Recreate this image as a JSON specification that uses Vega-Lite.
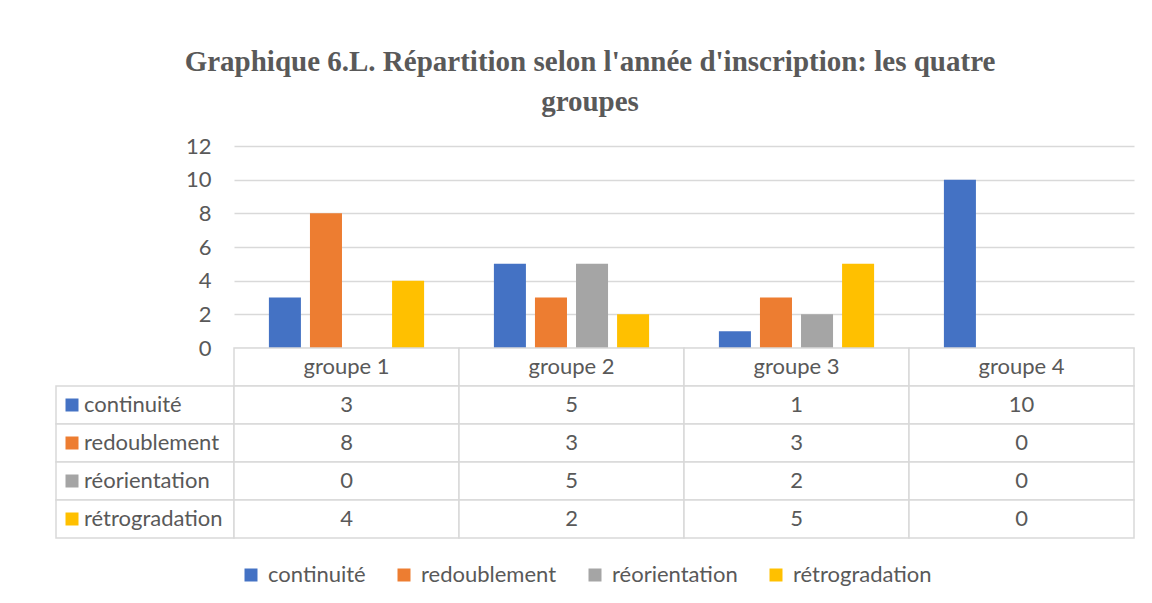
{
  "$schema": "https://vega.github.io/schema/vega-lite/v6.json",
  "padding": {"left": 55, "top": 48, "right": 10, "bottom": 10},
  "background": "white",
  "config": {"view": {"stroke": null}, "font": "Lato"},
  "datasets": {
    "main": [
      {"group": "groupe 1", "series": "continuité", "value": 3},
      {"group": "groupe 1", "series": "redoublement", "value": 8},
      {"group": "groupe 1", "series": "réorientation", "value": 0},
      {"group": "groupe 1", "series": "rétrogradation", "value": 4},
      {"group": "groupe 2", "series": "continuité", "value": 5},
      {"group": "groupe 2", "series": "redoublement", "value": 3},
      {"group": "groupe 2", "series": "réorientation", "value": 5},
      {"group": "groupe 2", "series": "rétrogradation", "value": 2},
      {"group": "groupe 3", "series": "continuité", "value": 1},
      {"group": "groupe 3", "series": "redoublement", "value": 3},
      {"group": "groupe 3", "series": "réorientation", "value": 2},
      {"group": "groupe 3", "series": "rétrogradation", "value": 5},
      {"group": "groupe 4", "series": "continuité", "value": 10},
      {"group": "groupe 4", "series": "redoublement", "value": 0},
      {"group": "groupe 4", "series": "réorientation", "value": 0},
      {"group": "groupe 4", "series": "rétrogradation", "value": 0}
    ]
  },
  "title": {
    "text": ["Graphique 6.L. Répartition selon l'année d'inscription: les quatre", "groupes"],
    "font": "Liberation Serif",
    "fontSize": 29,
    "fontWeight": "bold",
    "color": "#595959",
    "anchor": "middle",
    "dx": -5,
    "offset": 18,
    "lineHeight": 40
  },
  "columns": 2,
  "spacing": 0,
  "bounds": "flush",
  "align": "each",
  "concat": [
    {
      "width": 178,
      "height": 202,
      "data": {"name": "main"},
      "mark": {"type": "text", "opacity": 0},
      "encoding": {}
    },
    {
      "width": 900,
      "height": 202,
      "data": {"name": "main"},
      "mark": {"type": "bar"},
      "encoding": {
        "x": {"field": "group", "type": "nominal", "sort": null, "scale": {"paddingInner": 0, "paddingOuter": 0}, "axis": null},
        "xOffset": {"field": "series", "type": "nominal", "sort": ["continuité", "redoublement", "réorientation", "rétrogradation"], "scale": {"paddingInner": 0.22, "paddingOuter": 0.85}},
        "y": {
          "field": "value", "type": "quantitative",
          "scale": {"domain": [0, 12]},
          "axis": {"values": [0, 2, 4, 6, 8, 10, 12], "grid": true, "gridColor": "#d9d9d9", "gridWidth": 1.3, "domain": false, "ticks": false, "tickSize": 0, "labelPadding": 23, "labelFont": "Lato", "labelFontSize": 22, "labelColor": "#595959", "title": null}
        },
        "color": {
          "field": "series", "type": "nominal",
          "scale": {"domain": ["continuité", "redoublement", "réorientation", "rétrogradation"], "range": ["#4472C4", "#ED7D31", "#A5A5A5", "#FFC000"]},
          "legend": {"orient": "none", "legendX": 184, "legendY": 418, "direction": "horizontal", "title": null, "symbolType": "square", "symbolSize": 169, "symbolStrokeWidth": 0, "symbolOpacity": 1, "labelFont": "Lato", "labelFontSize": 22, "labelColor": "#595959", "columnPadding": 27, "labelOffset": 6, "padding": 0}
        }
      }
    },
    {
      "width": 178,
      "height": 190,
      "data": {"name": "main"},
      "transform": [{"aggregate": [{"op": "count", "as": "n"}], "groupby": ["series"]}],
      "encoding": {
        "y": {"field": "series", "type": "nominal", "scale": {"domain": ["_", "continuité", "redoublement", "réorientation", "rétrogradation"], "paddingInner": 0, "paddingOuter": 0}, "axis": null}
      },
      "layer": [
        {"mark": {"type": "rect", "fill": "white", "stroke": "#d9d9d9", "strokeWidth": 1.5}, "encoding": {"x": {"value": 0}, "x2": {"value": "width"}}},
        {"mark": {"type": "square", "size": 169, "filled": true, "opacity": 1}, "encoding": {"x": {"value": 16}, "color": {"field": "series", "type": "nominal", "scale": {"domain": ["continuité", "redoublement", "réorientation", "rétrogradation"], "range": ["#4472C4", "#ED7D31", "#A5A5A5", "#FFC000"]}}}},
        {"mark": {"type": "text", "align": "left", "font": "Lato", "fontSize": 22, "color": "#595959"}, "encoding": {"x": {"value": 28}, "text": {"field": "series"}}}
      ]
    },
    {
      "width": 900,
      "height": 190,
      "layer": [
        {
          "data": {"name": "main"},
          "transform": [{"aggregate": [{"op": "count", "as": "n"}], "groupby": ["group"]}],
          "encoding": {
            "x": {"field": "group", "type": "nominal", "sort": null, "scale": {"paddingInner": 0, "paddingOuter": 0}, "axis": null},
            "y": {"datum": "_", "type": "nominal", "scale": {"domain": ["_", "continuité", "redoublement", "réorientation", "rétrogradation"], "paddingInner": 0, "paddingOuter": 0}, "axis": null}
          },
          "layer": [
            {"mark": {"type": "rect", "fill": "white", "stroke": "#d9d9d9", "strokeWidth": 1.5}},
            {"mark": {"type": "text", "font": "Lato", "fontSize": 22, "color": "#595959"}, "encoding": {"text": {"field": "group"}}}
          ]
        },
        {
          "data": {"name": "main"},
          "encoding": {
            "x": {"field": "group", "type": "nominal", "sort": null, "scale": {"paddingInner": 0, "paddingOuter": 0}, "axis": null},
            "y": {"field": "series", "type": "nominal", "scale": {"domain": ["_", "continuité", "redoublement", "réorientation", "rétrogradation"], "paddingInner": 0, "paddingOuter": 0}, "axis": null}
          },
          "layer": [
            {"mark": {"type": "rect", "fill": "white", "stroke": "#d9d9d9", "strokeWidth": 1.5}},
            {"mark": {"type": "text", "font": "Lato", "fontSize": 22, "color": "#595959"}, "encoding": {"text": {"field": "value", "type": "quantitative"}}}
          ]
        }
      ]
    }
  ]
}
